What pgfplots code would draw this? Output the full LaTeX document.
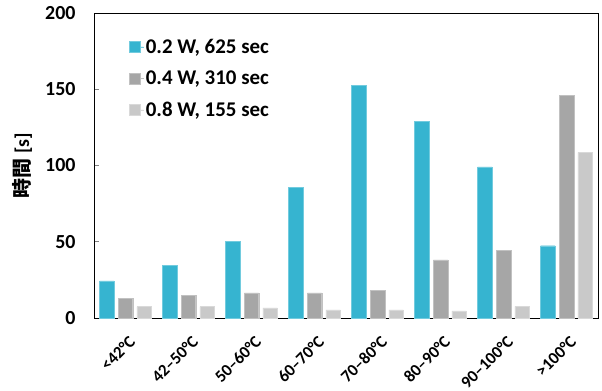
\documentclass[border=0pt]{standalone}
\usepackage{fontspec}
\setmainfont{Carlito}
\newfontfamily\cjk{Noto Sans CJK JP}
\usepackage{pgfplots}
\pgfplotsset{compat=1.18}
\definecolor{cblue}{RGB}{54,180,208}
\definecolor{cgray}{RGB}{166,166,166}
\definecolor{clight}{RGB}{201,201,201}
\begin{document}
\begin{tikzpicture}
\begin{axis}[
  scale only axis, width=504bp, height=305bp,
  xmin=-0.5, xmax=7.5, ymin=0, ymax=200,
  axis line style={line width=1pt},
  xtick={0,...,7},
  xticklabels={{<42°C},{42–50°C},{50–60°C},{60–70°C},{70–80°C},{80–90°C},{90–100°C},{>100°C}},
  ytick={0,50,...,200},
  ytick pos=left, xtick style={draw=none},
  ytick style={line width=0.8pt}, major tick length=5bp,
  tick align=inside,
  /pgf/number format/assume math mode=true,
  x tick label style={rotate=45, anchor=north east, inner sep=0pt,
    font=\bfseries\fontsize{17}{20}\selectfont, xshift=-10bp, yshift=-13.5bp},
  y tick label style={font=\bfseries\fontsize{20}{24}\selectfont, xshift=-15bp},
  ylabel={{\cjk\bfseries 時間} [s]},
  ylabel style={font=\bfseries\fontsize{20}{24}\selectfont, at={(rel axis cs:0,0.5)}, anchor=center, yshift=72bp},
  bar width=0.23,
  legend style={at={(0.07,0.922)}, anchor=north west, draw=none, fill=none,
    inner sep=0pt, font=\bfseries\fontsize{21}{25}\selectfont, row sep=12bp},
  legend cell align=left,
  legend image code/.code={\path (0bp,0bp) -- (14bp,0bp);\fill[#1] (0bp,-5.5bp) rectangle (11bp,5.5bp);},
]
\addplot[ybar, fill=cblue, draw=cblue!70!white, line width=0.4bp, bar shift=-0.297] coordinates {
  (0,24.3) (1,34.4) (2,50.2) (3,85.5) (4,152.6) (5,128.9) (6,99.1) (7,47.4)};
\addlegendentry{0.2 W, 625 sec}
\addplot[ybar, fill=cgray, draw=cgray!70!white, line width=0.4bp, bar shift=0] coordinates {
  (0,12.7) (1,14.9) (2,16.4) (3,16.4) (4,18.2) (5,38.2) (6,44.3) (7,145.8)};
\addlegendentry{0.4 W, 310 sec}
\addplot[ybar, fill=clight, draw=clight!70!white, line width=0.4bp, bar shift=0.297] coordinates {
  (0,7.5) (1,7.5) (2,6.6) (3,5.3) (4,5.3) (5,4.6) (6,7.7) (7,108.6)};
\addlegendentry{0.8 W, 155 sec}
\end{axis}
\pgfresetboundingbox
\path ([xshift=-94bp,yshift=-72bp]current axis.south west) rectangle ([xshift=4bp,yshift=13bp]current axis.north east);
\end{tikzpicture}
\end{document}
